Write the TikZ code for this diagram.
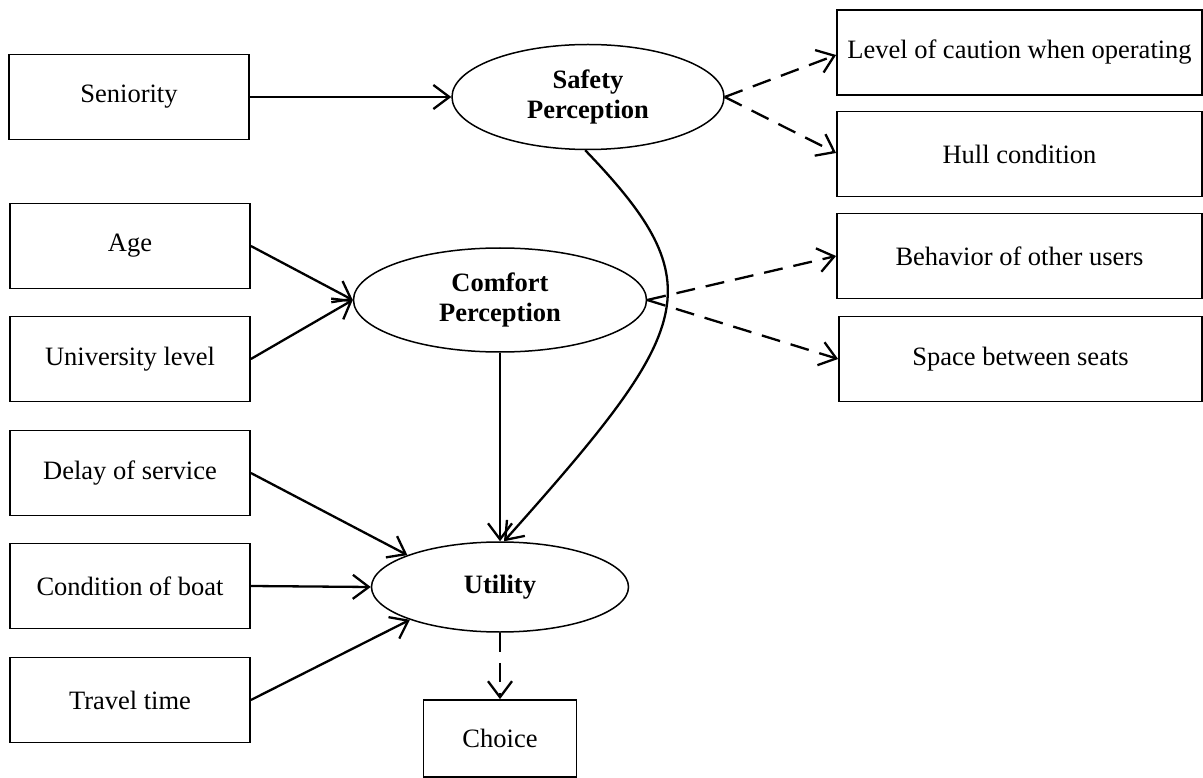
\documentclass[tikz,border=0pt]{standalone}
\usepackage{fontspec}
\setmainfont{Liberation Serif}
\usetikzlibrary{arrows.meta,shapes.geometric}
\tikzset{
  box/.style={draw, line width=1.8pt, rectangle, inner sep=0pt, minimum height=85pt, font=\fontsize{26.5}{30.5}\selectfont},
  lbox/.style={box, minimum width=240pt},
  rbox/.style={box, minimum width=365pt},
  latent/.style={draw, line width=1.5pt, ellipse, inner sep=0pt, align=center, font=\fontsize{26.5}{30.5}\selectfont\bfseries},
  conn/.style={line width=2.3pt, -{Straight Barb[length=16pt,width=24pt]}},
  dconn/.style={conn, dash pattern=on 19pt off 11pt}
}
\begin{document}
\begin{tikzpicture}[x=1pt,y=-1pt]
\useasboundingbox (0,0) rectangle (1203,778);
% left boxes
\node[lbox] (sen) at (129,97) {Seniority};
\node[lbox] (age) at (130,246) {Age};
\node[lbox] (uni) at (130,359) {University level};
\node[lbox] (del) at (130,473) {Delay of service};
\node[lbox] (con) at (130,586) {Condition of boat};
\node[lbox] (tra) at (130,700) {Travel time};
% right boxes
\node[rbox] (lev) at (1019.5,52.5) {Level of caution when operating};
\node[rbox] (hul) at (1019.5,154) {Hull condition};
\node[rbox] (beh) at (1019.5,256) {Behavior of other users};
\node[rbox, minimum width=363pt] (spa) at (1020.5,359) {Space between seats};
% choice
\node[box, minimum width=153pt, minimum height=77pt] (cho) at (500,738.5) {Choice};
% latent
\node[latent, minimum width=272pt, minimum height=105pt] (saf) at (588,97) {Safety\\Perception};
\node[latent, minimum width=293pt, minimum height=104pt] (com) at (500,300) {Comfort\\Perception};
\node[latent, minimum width=257pt, minimum height=90pt] (uti) at (500,587) {Utility};
% connectors
\draw[conn] (sen.east) -- (saf.west);
\draw[conn] (age.east) -- (com.west);
\draw[conn] (uni.east) -- (com.west);
\draw[conn] (del.east) -- (uti.161);
\draw[conn] (con.east) -- (uti.west);
\draw[conn] (tra.east) -- (uti.-160);
\draw[conn] (com.south) -- (uti.north);
\draw[conn] (saf.-93) .. controls +(130,135) and +(190,-213) .. (uti.85);
\draw[dconn] (saf.east) -- ([yshift=-2.5pt]lev.west);
\draw[dconn] (saf.east) -- ([yshift=1pt]hul.west);
\draw[dconn] (com.east) -- (beh.west);
\draw[dconn] (com.east) -- (spa.west);
\draw[dconn] (uti.south) -- (cho.north);
\end{tikzpicture}
\end{document}
